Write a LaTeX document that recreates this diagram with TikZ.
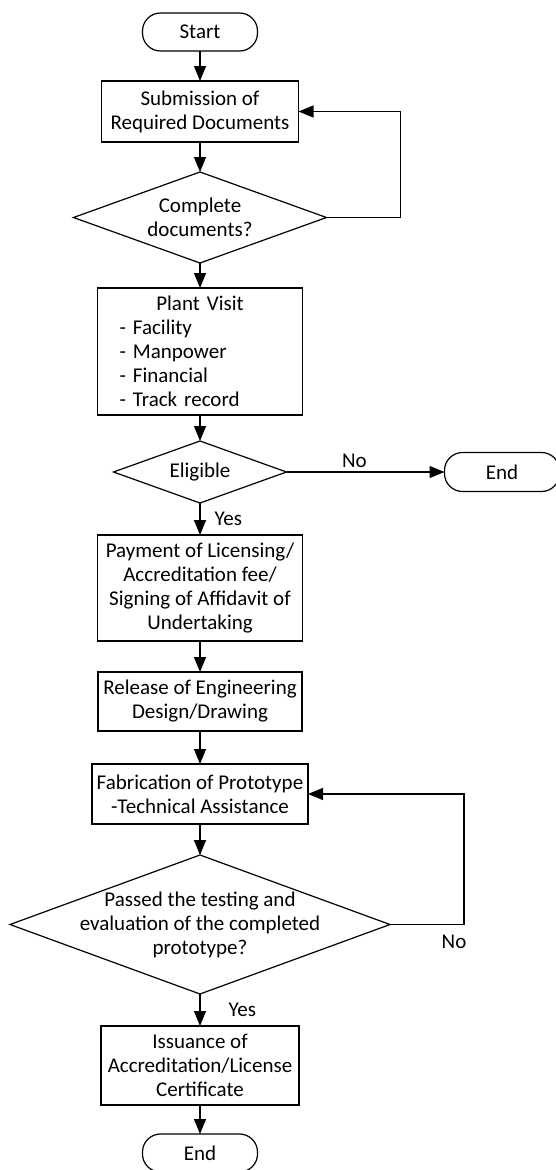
\documentclass[tikz,border=0pt]{standalone}
\usepackage{fontspec}
\setmainfont{Carlito}
\usepackage{tikz}
\usetikzlibrary{shapes.geometric,arrows.meta,positioning}

\begin{document}
\begin{tikzpicture}[
  x=1pt, y=1pt,
  every node/.style={font=\fontsize{21}{24}\selectfont},
  box/.style={
    draw,
    line width=1.2pt,
    outer sep=0pt,
    inner xsep=4pt,
    inner ysep=2pt,
    align=center
  },
  terminal/.style={
    box,
    rounded corners=18pt,
    minimum width=115pt,
    minimum height=38pt
  },
  decision/.style={
    box,
    diamond,
    inner sep=0pt
  },
  lbl/.style={inner sep=0pt},
  arrow/.style={-{Triangle[length=15pt,width=12pt]},line width=1.2pt}
]
  \useasboundingbox (0,0) rectangle (556,-1170);

  \node[terminal] (start) at (200,-32) {Start};

  \node[box,below=30pt of start,minimum width=197pt,minimum height=61pt]
    (submit) {Submission of\\Required Documents};

  \node[decision,below=30pt of submit,aspect=2.78,
        minimum width=253pt,minimum height=91pt]
    (check) {Complete\\documents?};

  \node[box,below=25pt of check,minimum width=205pt,minimum height=127pt,
        text width=161pt,inner xsep=22pt,align=left]
    (visit) {\makebox[\linewidth][c]{Plant Visit}\\- Facility\\- Manpower\\- Financial\\- Track record};

  \node[decision,below=26pt of visit,aspect=2.8,
        minimum width=173pt,minimum height=62pt]
    (elig) {Eligible};

  \node[terminal,right=158pt of elig,minimum height=39pt] (endA) {End};

  \node[box,below=32pt of elig,minimum width=205pt,minimum height=106pt]
    (pay) {Payment of Licensing/\\Accreditation fee/\\Signing of Affidavit of\\Undertaking};

  \node[box,below=31pt of pay,minimum width=204pt,minimum height=59pt]
    (release) {Release of Engineering\\Design/Drawing};

  \node[box,below=33pt of release,minimum width=216pt,minimum height=60pt]
    (fab) {Fabrication of Prototype\\-Technical Assistance};

  \node[decision,below=31pt of fab,aspect=2.73,inner xsep=-40pt,inner ysep=-20pt,
        minimum width=380pt,minimum height=139pt]
    (test) {Passed the testing and\\evaluation of the completed\\prototype?};

  \node[box,below=32pt of test,minimum width=198pt,minimum height=79pt]
    (issue) {Issuance of\\Accreditation/License\\Certificate};

  \node[terminal,below=29pt of issue] (endB) {End};

  \draw[arrow] (start) -- (submit);
  \draw[arrow] (submit) -- (check);
  \draw[arrow] (check) -- (visit);
  \draw[arrow] (check.east) -- ++(74,0) |- (submit.east);
  \draw[arrow] (visit) -- (elig);
  \draw[arrow] (elig) -- node[lbl,pos=0.43,above=4pt] {No} (endA);
  \draw[arrow] (elig) -- node[lbl,midway,right=14pt] {Yes} (pay);
  \draw[arrow] (pay) -- (release);
  \draw[arrow] (release) -- (fab);
  \draw[arrow] (fab) -- (test);
  \draw[arrow] (test.east) -- ++(74,0) node[lbl,below=10pt,xshift=-10pt] {No} |- (fab.east);
  \draw[arrow] (test) -- node[lbl,midway,right=28pt] {Yes} (issue);
  \draw[arrow] (issue) -- (endB);

\end{tikzpicture}
\end{document}
